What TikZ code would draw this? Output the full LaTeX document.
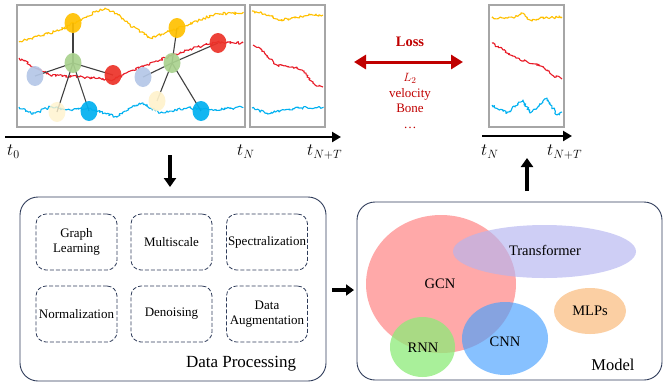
\documentclass[tikz,border=0pt]{standalone}
\usepackage{fontspec}
\setmainfont{Liberation Serif}
\usetikzlibrary{arrows.meta,decorations.pathmorphing,shapes.geometric}
\definecolor{cy}{RGB}{255,192,0}
\definecolor{cr}{RGB}{232,28,40}
\definecolor{cb}{RGB}{0,176,240}
\definecolor{ng}{RGB}{169,209,142}
\definecolor{nlb}{RGB}{180,199,231}
\definecolor{nr}{RGB}{236,50,40}
\definecolor{ncr}{RGB}{255,242,204}
\definecolor{lossred}{RGB}{192,0,0}
\definecolor{framec}{RGB}{47,60,90}
\definecolor{panelc}{RGB}{166,166,166}
\tikzset{
  panel/.style={draw=panelc, line width=1.2pt},
  noisy/.style={line width=1.1pt, line join=round, decorate, decoration={random steps, segment length=1.3pt, amplitude=1.3pt}},
  gnode/.style={ellipse, minimum width=17pt, minimum height=20pt, inner sep=0pt},
  gedge/.style={draw=black!75, line width=1.1pt},
  axisarrow/.style={line width=2.8pt, -{Triangle[length=9pt,width=10pt]}},
  bigarrow/.style={line width=4pt, -{Triangle[length=9pt,width=12pt]}},
  outerbox/.style={draw=framec, line width=0.9pt, rounded corners=18pt},
  dbox/.style={draw=framec, line width=0.8pt, dashed, dash pattern=on 4pt off 2pt, rounded corners=10pt, minimum width=81pt, minimum height=56pt, align=center, font=\fontsize{13}{14.5}\selectfont, inner sep=1pt},
  tlab/.style={font=\fontsize{18.5}{20}\selectfont, anchor=north west, inner sep=0pt},
  mlab/.style={font=\fontsize{14.5}{16}\selectfont},
}
\begin{document}
\begin{tikzpicture}[x=1pt,y=-1pt]
\useasboundingbox (0,0) rectangle (664,384);
\pgfmathsetseed{7}
% panels
\draw[panel] (17,5) rectangle (245,127);
\draw[panel] (250,5) rectangle (325,127);
\draw[panel] (489,5) rectangle (564,127);
% curves left panel
\draw[cy, noisy] (19,42) -- (40,36) -- (60,30) -- (80,20) -- (95,12) -- (105,8) -- (118,15) -- (130,25) -- (150,38) -- (165,33) -- (185,26) -- (200,20) -- (215,14) -- (243,13);
\draw[cr, noisy] (19,58) -- (35,68) -- (50,75) -- (83,77) -- (113,80) -- (133,70) -- (160,60) -- (187,50) -- (217,42) -- (243,43);
\draw[cb, noisy] (19,107) -- (33,114) -- (50,107) -- (70,110) -- (87,108) -- (105,113) -- (117,117) -- (130,108) -- (143,103) -- (160,113) -- (187,108) -- (215,110) -- (243,107);
% curves middle panel
\draw[cy, noisy] (252,11) -- (265,14) -- (280,20) -- (295,18) -- (310,15) -- (323,15);
\draw[cr, noisy] (253,45) -- (262,50) -- (267,57) -- (277,65) -- (293,67) -- (302,70) -- (315,85) -- (323,87);
\draw[cb, noisy] (252,108) -- (267,113) -- (285,110) -- (300,108) -- (323,107);
% curves right panel
\draw[cy, noisy] (492,18) -- (505,18) -- (515,17) -- (521,13) -- (525,15) -- (530,20) -- (545,18) -- (562,17);
\draw[cr, noisy] (492,43) -- (503,50) -- (520,60) -- (535,64) -- (543,67) -- (552,75) -- (562,79);
\draw[cb, noisy] (492,105) -- (507,113) -- (523,100) -- (530,113) -- (547,98) -- (557,115) -- (562,112);
% graph nodes (positions)
\node[gnode] (y1) at (73,23) {};
\node[gnode] (g1) at (73,63) {};
\node[gnode] (lb1) at (35,76) {};
\node[gnode] (r1) at (113,75) {};
\node[gnode] (c1) at (57,112) {};
\node[gnode] (b1) at (89,111) {};
\node[gnode] (y2) at (177,28) {};
\node[gnode] (g2) at (172,63) {};
\node[gnode] (lb2) at (143,77) {};
\node[gnode] (r2) at (218,43) {};
\node[gnode] (c2) at (157,101) {};
\node[gnode] (b2) at (201,111) {};
\foreach \a/\b in {g1/y1,g1/lb1,g1/r1,g1/c1,g1/b1,g2/y2,g2/lb2,g2/r2,g2/c2,g2/b2}
  \draw[gedge] (\a.center) -- (\b.center);
% fills on top of edges
\foreach \n/\c in {y1/cy,g1/ng,lb1/nlb,r1/nr,b1/cb,y2/cy,g2/ng,lb2/nlb,r2/nr,c2/ncr,b2/cb}
  \fill[\c, fill opacity=0.92] (\n.center) ellipse [x radius=8.5pt, y radius=10pt];
\fill[ncr, fill opacity=0.8] (c1.center) ellipse [x radius=8.5pt, y radius=10pt];
% time axes
\coordinate (a0) at (5,137);
\coordinate (a1) at (341,137);
\draw[axisarrow] (a0) -- (a1);
\coordinate (b0) at (482,136);
\coordinate (b1e) at (572,136);
\draw[axisarrow] (b0) -- (b1e);
\node[tlab] (t0) at (7,145) {$t_0$};
\node[tlab] (tN) at (237,145) {$t_N$};
\node[tlab] (tNT) at (307,145) {$t_{N+T}$};
\node[tlab] (tN2) at (481,145) {$t_N$};
\node[tlab] (tNT2) at (547,145) {$t_{N+T}$};
% loss
\node[font=\bfseries\fontsize{14.5}{16}\selectfont, text=lossred] (loss) at (410,42) {Loss};
\coordinate (ll) at (354,62);
\coordinate (lr) at (463,62);
\draw[lossred, line width=3pt, {Triangle[length=12pt,width=14pt]}-{Triangle[length=12pt,width=14pt]}] (ll) -- (lr);
\node[text=lossred, align=center, font=\fontsize{13}{15.5}\selectfont] (lossitems) at (410,101) {$L_2$\\velocity\\Bone\\\ldots};
% big arrows
\coordinate (d0) at (170,155);
\coordinate (d1) at (170,187);
\draw[bigarrow] (d0) -- (d1);
\coordinate (u0) at (527,191);
\coordinate (u1) at (527,158);
\draw[bigarrow] (u0) -- (u1);
% data processing
\draw[outerbox] (20,197) rectangle (326,381);
\node (dp) at (241,364) {\fontsize{17}{19}\selectfont Data Processing};
\node[dbox] (gl) at (76.5,242) {Graph\\Learning};
\node[dbox] (ms) at (171.5,242) {Multiscale};
\node[dbox] (sp) at (267,242) {Spectralization};
\node[dbox] (no) at (76.5,314) {Normalization};
\node[dbox] (de) at (171.5,314) {Denoising};
\node[dbox] (da) at (267,314) {Data\\Augmentation};
\coordinate (r0) at (332,290);
\coordinate (r1e) at (354,290);
\draw[line width=3.5pt, -{Triangle[length=8pt,width=11pt]}] (r0) -- (r1e);
% model
\draw[outerbox] (357,202) rectangle (662,380);
\fill[fill={rgb,255:red,255;green,140;blue,140}, fill opacity=0.75] (441,284) ellipse [x radius=75pt, y radius=69pt];
\fill[fill={rgb,255:red,180;green,180;blue,240}, fill opacity=0.65] (544.5,251.5) ellipse [x radius=91.5pt, y radius=26.5pt];
\fill[fill={rgb,255:red,140;green,235;blue,120}, fill opacity=0.75] (422.5,347) ellipse [x radius=32.5pt, y radius=30pt];
\fill[fill={rgb,255:red,70;green,160;blue,255}, fill opacity=0.65] (505,338.5) ellipse [x radius=43pt, y radius=36.5pt];
\fill[fill={rgb,255:red,250;green,195;blue,140}, fill opacity=0.8] (590,311) ellipse [x radius=36pt, y radius=23pt];
\node[mlab] (gcnl) at (440,284) {GCN};
\node[mlab] (trl) at (545,250) {Transformer};
\node[mlab] (rnnl) at (423,348) {RNN};
\node[mlab] (cnnl) at (505,342) {CNN};
\node[mlab] (mlpl) at (590,311) {MLPs};
\node (ml) at (613,365) {\fontsize{16.5}{18}\selectfont Model};
\end{tikzpicture}
\end{document}
